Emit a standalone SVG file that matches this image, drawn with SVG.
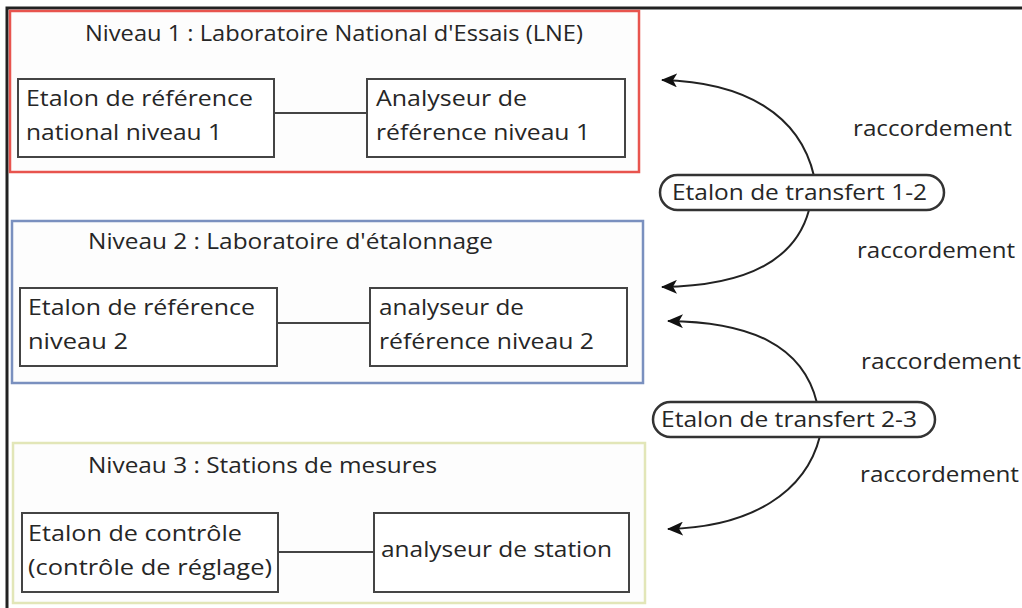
<svg xmlns="http://www.w3.org/2000/svg" width="1022" height="608" viewBox="0 0 1022 608">
<defs>
<marker id="ah" viewBox="0 0 16 14" refX="15" refY="7" markerWidth="16" markerHeight="14" markerUnits="userSpaceOnUse" orient="auto">
<path d="M16,7 L0,0 L4,7 L0,14 Z" fill="#111"/>
</marker>
</defs>
<style>
text{font-family:"Open Sans","Noto Sans","DejaVu Sans",sans-serif;font-size:22px;fill:#262626}
.box{fill:#fff;stroke:#444;stroke-width:2}
.lvl{fill:#fdfdfd;stroke-width:2.5}
.link{stroke:#444;stroke-width:2;fill:none}
.arc{stroke:#222;stroke-width:2;fill:none}
.pill{fill:#fff;stroke:#333;stroke-width:2.5}
</style>
<rect width="1022" height="608" fill="#fff"/>
<path d="M7,608 L7,8 L1022,8" fill="none" stroke="#222" stroke-width="3"/>

<g id="niveau1">
<rect class="lvl" x="10" y="11" width="629" height="161" stroke="#e8544e"/>
<text x="85" y="41" textLength="498" lengthAdjust="spacingAndGlyphs">Niveau 1 : Laboratoire National d'Essais (LNE)</text>
</g>
<g id="etalon1">
<rect class="box" x="18" y="79" width="256" height="78"/>
<text x="26" y="106" textLength="227" lengthAdjust="spacingAndGlyphs">Etalon de référence</text>
<text x="26" y="140" textLength="196" lengthAdjust="spacingAndGlyphs">national niveau 1</text>
</g>
<g id="analyseur1">
<rect class="box" x="367" y="79" width="258" height="78"/>
<text x="376" y="106" textLength="151" lengthAdjust="spacingAndGlyphs">Analyseur de</text>
<text x="376" y="140" textLength="214" lengthAdjust="spacingAndGlyphs">référence niveau 1</text>
</g>

<g id="niveau2">
<rect class="lvl" x="12" y="221" width="631" height="162" stroke="#7a90bf"/>
<text x="88" y="249" textLength="405" lengthAdjust="spacingAndGlyphs">Niveau 2 : Laboratoire d'étalonnage</text>
</g>
<g id="etalon2">
<rect class="box" x="20" y="288" width="257" height="78"/>
<text x="28" y="315" textLength="227" lengthAdjust="spacingAndGlyphs">Etalon de référence</text>
<text x="28" y="349" textLength="100" lengthAdjust="spacingAndGlyphs">niveau 2</text>
</g>
<g id="analyseur2">
<rect class="box" x="370" y="288" width="257" height="78"/>
<text x="379" y="315" textLength="145" lengthAdjust="spacingAndGlyphs">analyseur de</text>
<text x="379" y="349" textLength="215" lengthAdjust="spacingAndGlyphs">référence niveau 2</text>
</g>

<g id="niveau3">
<rect class="lvl" x="13" y="443" width="632" height="160" stroke="#e2e6b8"/>
<text x="88" y="473" textLength="349" lengthAdjust="spacingAndGlyphs">Niveau 3 : Stations de mesures</text>
</g>
<g id="etalon3">
<rect class="box" x="22" y="513" width="256" height="79"/>
<text x="28" y="541" textLength="214" lengthAdjust="spacingAndGlyphs">Etalon de contrôle</text>
<text x="28" y="575" textLength="244" lengthAdjust="spacingAndGlyphs">(contrôle de réglage)</text>
</g>
<g id="analyseur3">
<rect class="box" x="374" y="513" width="255" height="79"/>
<text x="381" y="557" textLength="231" lengthAdjust="spacingAndGlyphs">analyseur de station</text>
</g>

<g id="connectors">
<line class="link" x1="274" y1="113" x2="367" y2="113"/>
<line class="link" x1="277" y1="323" x2="370" y2="323"/>
<line class="link" x1="278" y1="552" x2="374" y2="552"/>
<path class="arc" d="M814,176 C800,115 745,82 662,80" marker-end="url(#ah)"/>
<path class="arc" d="M809,210 C795,262 745,286 662,287" marker-end="url(#ah)"/>
<path class="arc" d="M817,403 C803,345 750,322 668,321" marker-end="url(#ah)"/>
<path class="arc" d="M820,436 C806,492 752,527 668,529" marker-end="url(#ah)"/>
</g>

<g id="transfert12">
<rect class="pill" x="660" y="175" width="284" height="35" rx="17.5"/>
<text x="672" y="200" textLength="255" lengthAdjust="spacingAndGlyphs">Etalon de transfert 1-2</text>
</g>
<g id="transfert23">
<rect class="pill" x="653" y="402" width="282" height="35" rx="17.5"/>
<text x="661" y="427" textLength="256" lengthAdjust="spacingAndGlyphs">Etalon de transfert 2-3</text>
</g>

<g id="labels">
<text x="853" y="136" textLength="159" lengthAdjust="spacingAndGlyphs">raccordement</text>
<text x="857" y="258" textLength="158" lengthAdjust="spacingAndGlyphs">raccordement</text>
<text x="861" y="369" textLength="160" lengthAdjust="spacingAndGlyphs">raccordement</text>
<text x="860" y="482" textLength="159" lengthAdjust="spacingAndGlyphs">raccordement</text>
</g>
</svg>
